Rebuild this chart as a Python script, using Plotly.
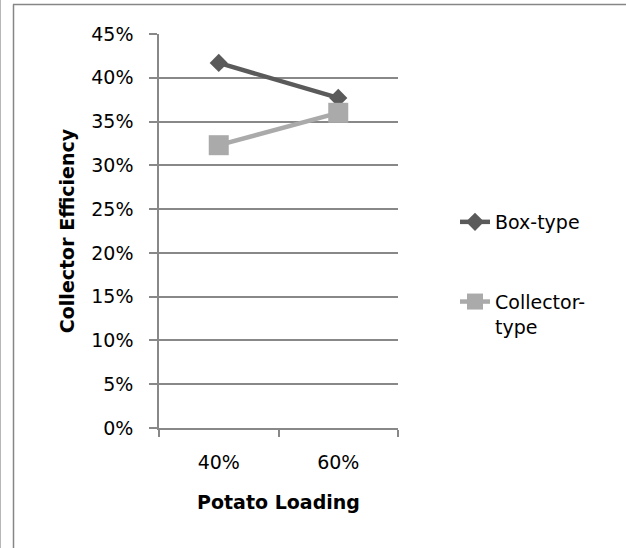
import plotly.graph_objects as go

# Potato loading levels and collector efficiency per dryer type
loading = ["40%", "60%"]
box_type = [0.417, 0.377]
collector_type = [0.323, 0.360]

W, H = 626, 548
L, R, T, B = 159, 228, 34, 120
PW, PH = W - L - R, H - T - B


def px(x):
    return (x - L) / PW


def py(y):
    return (H - B - y) / PH


GRID = "#888888"
FONT = "DejaVu Sans"

fig = go.Figure()
fig.add_trace(go.Scatter(
    x=loading, y=box_type, name="Box-type", mode="lines+markers",
    line=dict(color="#5a5a5a", width=4.5),
    marker=dict(symbol="diamond", size=14, color="#5a5a5a"),
    legendgroup="a",
))
fig.add_trace(go.Scatter(
    x=loading, y=collector_type, name="Collector-<br>type", mode="lines+markers",
    line=dict(color="#aaaaaa", width=4.5),
    marker=dict(symbol="square", size=20, color="#aaaaaa"),
    legendgroup="b",
))

fig.update_layout(
    width=W, height=H,
    margin=dict(l=L, r=R, t=T, b=B, autoexpand=False),
    paper_bgcolor="white", plot_bgcolor="white",
    font=dict(family=FONT, size=19, color="black"),
    showlegend=True,
    legend=dict(
        x=px(455), y=py(203), xanchor="left", yanchor="top",
        tracegroupgap=52, valign="top",
        font=dict(family=FONT, size=19, color="black"),
        bgcolor="rgba(0,0,0,0)",
    ),
    xaxis=dict(
        type="category", range=[-0.5, 1.5], tickson="boundaries",
        ticks="outside", ticklen=7, tickcolor=GRID, tickwidth=1.5,
        showline=True, linecolor=GRID, linewidth=1.5,
        showgrid=False, zeroline=False, ticklabelstandoff=16,
        title=dict(text="<b>Potato Loading</b>", standoff=24,
                   font=dict(family=FONT, size=19)),
    ),
    yaxis=dict(
        range=[0, 0.45], dtick=0.05, tickformat=".0%",
        ticks="outside", ticklen=8, tickcolor=GRID, tickwidth=1.5,
        showline=True, linecolor=GRID, linewidth=1.5,
        showgrid=True, gridcolor=GRID, gridwidth=1.5, zeroline=False,
        ticklabelstandoff=12,
        title=dict(text="<b>Collector Efficiency</b>", standoff=12,
                   font=dict(family=FONT, size=19)),
    ),
    shapes=[
        dict(type="line", xref="paper", yref="paper",
             x0=px(13), x1=px(W), y0=py(4.5), y1=py(4.5),
             line=dict(color="#868686", width=1.5)),
        dict(type="line", xref="paper", yref="paper",
             x0=px(13.5), x1=px(13.5), y0=py(4.5), y1=py(H),
             line=dict(color="#868686", width=1.5)),
        dict(type="line", xref="paper", yref="paper",
             x0=px(0.5), x1=px(0.5), y0=py(0), y1=py(H),
             line=dict(color="#b8b8b8", width=1)),
    ],
)

fig.write_html("out.html")
